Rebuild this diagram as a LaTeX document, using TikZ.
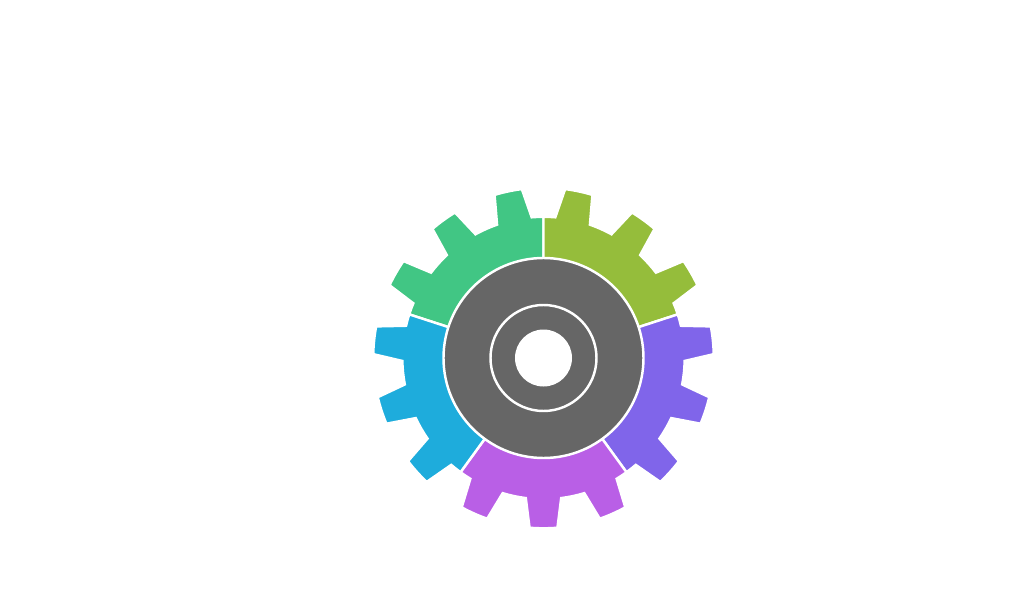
\documentclass[tikz,border=0pt]{standalone}
\definecolor{gearolive}{HTML}{95BD3B}
\definecolor{geargreen}{HTML}{41C684}
\definecolor{gearblue}{HTML}{1EACDC}
\definecolor{gearmagenta}{HTML}{B95FE6}
\definecolor{gearpurple}{HTML}{8065EA}
\definecolor{geargray}{HTML}{666666}
\tikzset{
  gearpart/.style={draw=white,line width=1.4pt,line join=miter},
  hubdisc/.style={fill=geargray,draw=white,line width=1.4pt}
}
% one part of the wheel: start angle, colour (three teeth over 72 degrees)
\newcommand{\gearpart}[2]{
  \draw[gearpart,fill=#2] (#1:99) -- (#1:141.2)
    \foreach \s/\t in {0/12,19.2/36,43.2/60} {
      arc[start angle={#1+\s}, end angle={#1+\t-7.2}, radius=141.2]
      -- ({#1+\t-4.7}:170.3)
      arc[start angle={#1+\t-4.7}, end angle={#1+\t+4.7}, radius=170.3]
      -- ({#1+\t+7.2}:141.2)
    }
    arc[start angle={#1+67.2}, end angle={#1+72}, radius=141.2]
    -- ({#1+72}:99) -- cycle;
}
\begin{document}
\begin{tikzpicture}[scale=0.02]
\useasboundingbox (-543.5,-256) rectangle (480.5,358);

\gearpart{90}{geargreen}
\gearpart{18}{gearolive}
\gearpart{-54}{gearpurple}
\gearpart{-126}{gearmagenta}
\gearpart{162}{gearblue}

\draw[hubdisc] (0,0) circle (100);
\draw[hubdisc] (0,0) circle (53);
\fill[white] (0,0) circle (28.5);

\end{tikzpicture}
\end{document}
